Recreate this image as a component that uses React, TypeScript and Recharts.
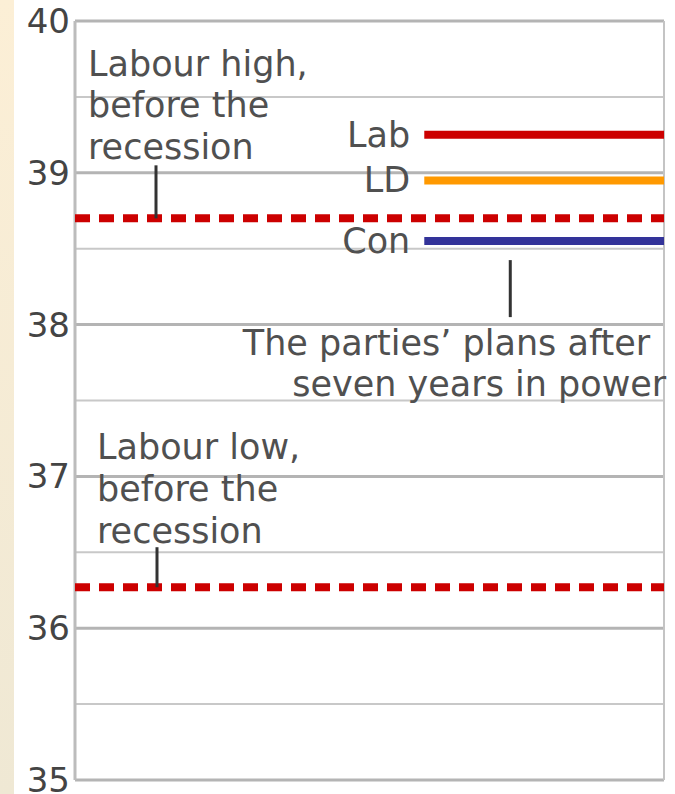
import React from "react";
import { ComposedChart, XAxis, YAxis, ReferenceLine, Line, LabelList } from "recharts";

// y axis: 35..40, gridlines every half point
const yTicks = [35, 35.5, 36, 36.5, 37, 37.5, 38, 38.5, 39, 39.5, 40];

// party plans after seven years in power
const parties = ["Lab", "LD", "Con"];
const partyValues = [39.25, 38.95, 38.55];
const partyColors = ["#cc0000", "#ff9900", "#333399"];
const planStart = 0.593; // x position (0..1) where the party segments begin

// Labour before the recession
const labourHigh = 38.7;
const labourLow = 36.27;
const highText = ["Labour high,", "before the", "recession"];
const lowText = ["Labour low,", "before the", "recession"];
const plansText = ["The parties\u2019 plans after", "seven years in power"];

const span = [
  { x: 0, high: labourHigh, low: labourLow },
  { x: 1, high: labourHigh, low: labourLow },
];

const FONT = "'DejaVu Sans', Verdana, sans-serif";
const TEXT = "#505050";

function YTick(props: any) {
  const { x, y, payload } = props;
  if (payload.value % 1 !== 0) return null;
  return (
    <text x={x} y={y} dy={12} textAnchor="end" fontSize={34} fontFamily={FONT} fill="#444">
      {payload.value}
    </text>
  );
}

function noteLabel(lines: string[], dx: number, baselines: number[], tickDx: number, tickTop: number) {
  return (p: any) => {
    if (p.index !== 0) return null;
    const { x, y } = p;
    return (
      <g>
        <line x1={x + tickDx} x2={x + tickDx} y1={y + tickTop} y2={y} stroke="#333" strokeWidth={3} />
        {lines.map((t, i) => (
          <text key={i} x={x + dx} y={y + baselines[i]} fontSize={35} fontFamily={FONT} fill={TEXT}>
            {t}
          </text>
        ))}
      </g>
    );
  };
}

function partyLabel(name: string, withPlans: boolean) {
  return (p: any) => {
    if (p.index !== 0) return null;
    const { x, y } = p;
    return (
      <g>
        <text x={x - 14} y={y + 12} textAnchor="end" fontSize={35} fontFamily={FONT} fill={TEXT}>
          {name}
        </text>
        {withPlans && (
          <g>
            <line x1={x + 86} x2={x + 86} y1={y + 19} y2={y + 76} stroke="#333" strokeWidth={3} />
            <text x={x + 226} y={y + 114} textAnchor="end" fontSize={35} fontFamily={FONT} fill={TEXT}>
              {plansText[0]}
            </text>
            <text x={x + 242} y={y + 155} textAnchor="end" fontSize={35} fontFamily={FONT} fill={TEXT}>
              {plansText[1]}
            </text>
          </g>
        )}
      </g>
    );
  };
}

export default function App() {
  return (
    <div style={{ position: "absolute", left: 0, top: 0, width: 675, height: 794, background: "#fff", overflow: "hidden" }}>
      <div
        style={{
          position: "absolute",
          left: 0,
          top: 0,
          width: 14,
          height: 794,
          background: "linear-gradient(#fcefd6, #efe8d4)",
        }}
      />
      <div style={{ position: "absolute", left: 0, top: 0 }}>
        <ComposedChart width={675} height={794} data={span} margin={{ top: 21, right: 11, bottom: 14, left: 0 }}>
          <XAxis dataKey="x" type="number" domain={[0, 1]} hide allowDataOverflow />
          <YAxis
            type="number"
            domain={[35, 40]}
            ticks={yTicks}
            width={75}
            axisLine={false}
            tickLine={false}
            tickSize={0}
            tickMargin={5}
            tick={<YTick />}
            interval={0}
            allowDataOverflow
          />
          {yTicks.map((v) => (
            <ReferenceLine
              key={v}
              y={v}
              stroke={v % 1 === 0 ? "#b4b4b4" : "#c8c8c8"}
              strokeWidth={v % 1 === 0 ? 3 : 2}
            />
          ))}
          <ReferenceLine x={0} stroke="#bcbcbc" strokeWidth={3} />
          <ReferenceLine x={1} stroke="#c4c4c4" strokeWidth={2} />
          <Line
            dataKey="high"
            stroke="#cc0000"
            strokeWidth={8}
            strokeDasharray="15 9"
            dot={false}
            activeDot={false}
            isAnimationActive={false}
          >
            <LabelList dataKey="high" content={noteLabel(highText, 13, [-142, -101, -59], 81, -53)} />
          </Line>
          <Line
            dataKey="low"
            stroke="#cc0000"
            strokeWidth={8}
            strokeDasharray="15 9"
            dot={false}
            activeDot={false}
            isAnimationActive={false}
          >
            <LabelList dataKey="low" content={noteLabel(lowText, 22, [-128, -86, -44], 82, -40)} />
          </Line>
          {parties.map((name, i) => (
            <Line
              key={name}
              data={[
                { x: planStart, v: partyValues[i] },
                { x: 1, v: partyValues[i] },
              ]}
              dataKey="v"
              stroke={partyColors[i]}
              strokeWidth={8}
              dot={false}
              activeDot={false}
              isAnimationActive={false}
            >
              <LabelList dataKey="v" content={partyLabel(name, name === "Con")} />
            </Line>
          ))}
        </ComposedChart>
      </div>
    </div>
  );
}
